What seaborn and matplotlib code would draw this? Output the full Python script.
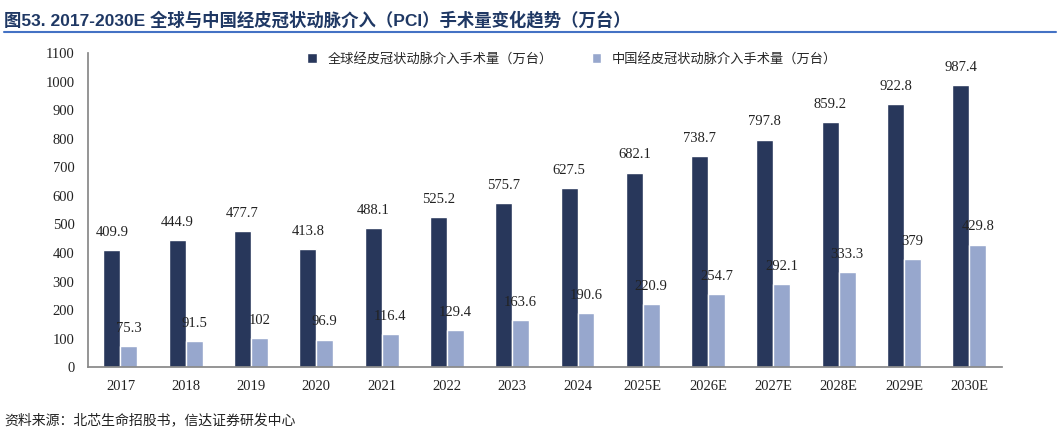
import matplotlib
matplotlib.use("Agg")
import matplotlib.pyplot as plt
import seaborn as sns
import pandas as pd

years = ["2017", "2018", "2019", "2020", "2021", "2022", "2023", "2024",
         "2025E", "2026E", "2027E", "2028E", "2029E", "2030E"]
global_pci = [409.9, 444.9, 477.7, 413.8, 488.1, 525.2, 575.7, 627.5,
              682.1, 738.7, 797.8, 859.2, 922.8, 987.4]
china_pci = [75.3, 91.5, 102, 96.9, 116.4, 129.4, 163.6, 190.6,
             220.9, 254.7, 292.1, 333.3, 379, 429.8]
global_label = "全球经皮冠状动脉介入手术量（万台）"
china_label = "中国经皮冠状动脉介入手术量（万台）"

sns.set_theme(style="white")
plt.rcParams["font.family"] = ["Liberation Serif", "Noto Sans CJK SC"]

df = pd.DataFrame({
    "year": years * 2,
    "value": global_pci + china_pci,
    "series": [global_label] * len(years) + [china_label] * len(years),
})

fig = plt.figure(figsize=(10.58, 4.33), dpi=100)
ax = fig.add_axes([0.083, 0.152, 0.864, 0.725])
sns.barplot(data=df, x="year", y="value", hue="series",
            palette=["#1F3364", "#8EA3D6"], width=0.52, gap=0, ax=ax)

for cont in ax.containers:
    ax.bar_label(cont, labels=[f"{v:g}" for v in cont.datavalues],
                 padding=8, fontsize=10.5, color="#222222")

ax.set_ylim(0, 1100)
ax.set_yticks(range(0, 1101, 100))
ax.set_xlabel("")
ax.set_ylabel("")
ax.tick_params(labelsize=10.5, colors="#222222")
for s in ["top", "right"]:
    ax.spines[s].set_visible(False)
for s in ["left", "bottom"]:
    ax.spines[s].set_color("#888888")
ax.legend(loc="upper center", bbox_to_anchor=(0.53, 1.04), ncol=2, frameon=False,
          handlelength=0.7, handleheight=0.7, columnspacing=3,
          prop={"family": ["Noto Sans CJK SC"], "size": 9.5})

fig.text(0.004, 0.955, "图53. 2017-2030E 全球与中国经皮冠状动脉介入（PCI）手术量变化趋势（万台）",
         fontsize=12.5, fontweight="bold", color="#1F3864",
         family=["Liberation Sans", "Noto Sans CJK SC"], va="center")
fig.add_artist(plt.Line2D([0.004, 0.998], [0.925, 0.925], color="#4472C4", lw=1.5))
fig.text(0.004, 0.03, "资料来源：北芯生命招股书，信达证券研发中心", fontsize=10,
         style="italic", family=["Noto Sans CJK SC"], color="#222222", va="center")

fig.savefig("out.png", dpi=100)
